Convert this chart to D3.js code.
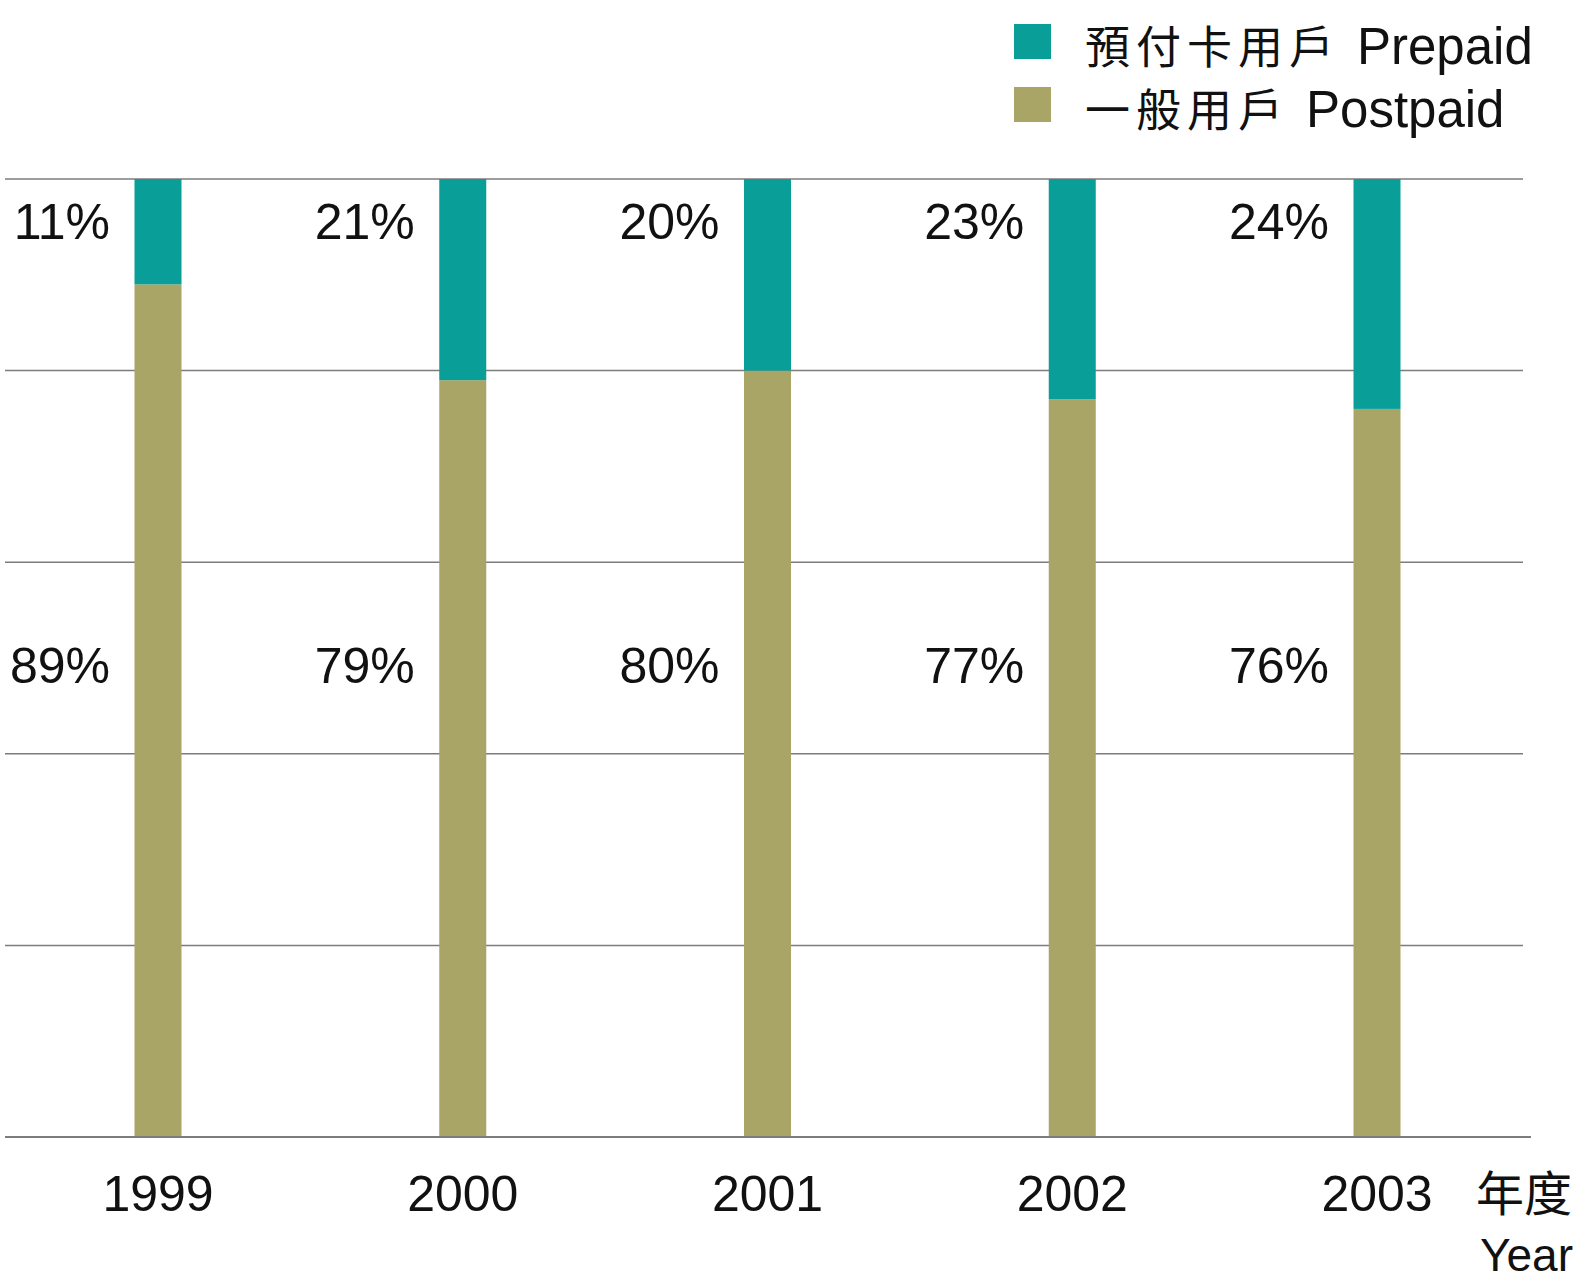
<!DOCTYPE html>
<html>
<head>
<meta charset="utf-8">
<script src="https://cdn.jsdelivr.net/npm/d3@7"></script>
<style>
  html, body { margin: 0; padding: 0; background: #fff; }
  svg { display: block; }
</style>
</head>
<body>
<svg id="chart" width="1587" height="1285"></svg>
<script>
const years = ["1999", "2000", "2001", "2002", "2003"];
const prepaid = [11, 21, 20, 23, 24];
const postpaid = [89, 79, 80, 77, 76];
const gridTicks = [0, 20, 40, 60, 80, 100];
const seriesNames = ["預付卡用戶", "一般用戶"];
const seriesLatin = ["Prepaid", "Postpaid"];
const colors = ["#0a9e98", "#a8a566"];
const axisLabelCJK = "年度";
const axisLabelLatin = "Year";

const svg = d3.select("#chart");
const numFont = "'Liberation Sans', Arial, sans-serif";
const cjkFont = "'Noto Sans CJK TC', 'Noto Sans CJK SC', sans-serif";

const x = d3.scalePoint().domain(years).range([158, 1377]);
const y = d3.scaleLinear().domain([0, 100]).range([1137, 179]);
const barW = 47;

// gridlines
svg.append("g").selectAll("line").data(gridTicks.filter(d => d > 0)).join("line")
  .attr("x1", 5).attr("x2", 1523)
  .attr("y1", d => y(d)).attr("y2", d => y(d))
  .attr("stroke", "#7c7c7c").attr("stroke-width", 1.5);

// bars
const data = years.map((yr, i) => ({ yr, post: postpaid[i], pre: prepaid[i] }));
const g = svg.append("g");
g.selectAll("rect.post").data(data).join("rect").attr("class", "post")
  .attr("x", d => x(d.yr) - barW / 2).attr("width", barW)
  .attr("y", d => y(d.post)).attr("height", d => y(0) - y(d.post))
  .attr("fill", colors[1]);
g.selectAll("rect.pre").data(data).join("rect").attr("class", "pre")
  .attr("x", d => x(d.yr) - barW / 2).attr("width", barW)
  .attr("y", d => y(d.post + d.pre)).attr("height", d => y(d.post) - y(d.post + d.pre))
  .attr("fill", colors[0]);

// baseline axis
svg.append("line").attr("x1", 5).attr("x2", 1531)
  .attr("y1", y(0)).attr("y2", y(0))
  .attr("stroke", "#7c7c7c").attr("stroke-width", 2);

// value labels
svg.append("g").selectAll("text").data(data).join("text")
  .attr("x", d => x(d.yr) - 48).attr("y", 239)
  .attr("text-anchor", "end").attr("font-family", numFont).attr("font-size", 50)
  .attr("fill", "#111").text(d => d.pre + "%");
svg.append("g").selectAll("text").data(data).join("text")
  .attr("x", d => x(d.yr) - 48).attr("y", 683)
  .attr("text-anchor", "end").attr("font-family", numFont).attr("font-size", 50)
  .attr("fill", "#111").text(d => d.post + "%");

// x labels
svg.append("g").selectAll("text").data(years).join("text")
  .attr("x", d => x(d)).attr("y", 1211)
  .attr("text-anchor", "middle").attr("font-family", numFont).attr("font-size", 50)
  .attr("fill", "#111").text(d => d);

svg.append("text").attr("x", 1476).attr("y", 1211)
  .attr("font-family", cjkFont).attr("font-size", 48).attr("fill", "#111")
  .text(axisLabelCJK);
svg.append("text").attr("x", 1480).attr("y", 1271)
  .attr("font-family", numFont).attr("font-size", 46).attr("fill", "#111")
  .text(axisLabelLatin);

// legend
const legend = svg.append("g");
const legY = [24, 87];
const latinX = [1357, 1306];
seriesNames.forEach((name, i) => {
  legend.append("rect").attr("x", 1014).attr("y", legY[i])
    .attr("width", 37).attr("height", 35).attr("fill", colors[i]);
  const t = legend.append("text").attr("y", legY[i] + 40).attr("fill", "#111");
  t.append("tspan").attr("x", 1085).attr("font-family", cjkFont)
    .attr("font-size", 45).attr("letter-spacing", 6).text(name);
  t.append("tspan").attr("x", latinX[i]).attr("font-family", numFont)
    .attr("font-size", 51).text(seriesLatin[i]);
});
</script>
</body>
</html>
